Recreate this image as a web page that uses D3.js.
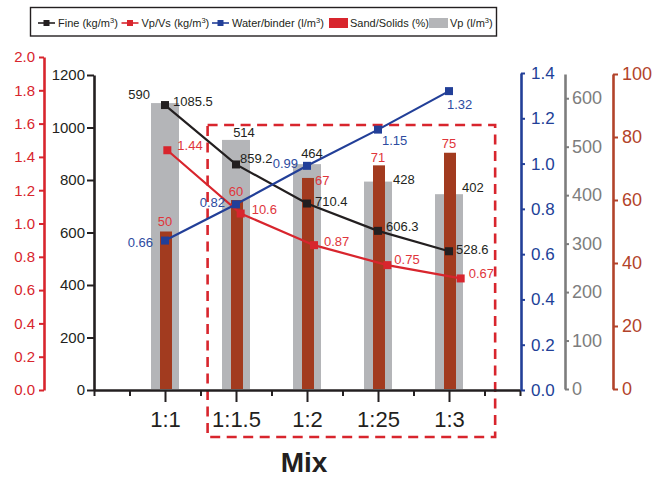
<!DOCTYPE html>
<html>
<head>
<meta charset="utf-8">
<script src="https://cdn.jsdelivr.net/npm/d3@7"></script>
<style>
  html, body { margin: 0; padding: 0; background: #ffffff; }
  svg { display: block; font-family: "Liberation Sans", Arial, Helvetica, sans-serif; }
</style>
</head>
<body>
<svg id="chart" width="665" height="477"></svg>
<script>
// ---- data ----
const mixes = ["1:1", "1:1.5", "1:2", "1:25", "1:3"];
const fine = [1085.5, 859.2, 710.4, 606.3, 528.6];          // kg/m3
const vpVs = [1.44, 1.06, 0.87, 0.75, 0.67];                // ratio
const vpVsText = ["1.44", "10.6", "0.87", "0.75", "0.67"];  // printed labels
const waterBinder = [0.66, 0.82, 0.99, 1.15, 1.32];         // l/m3
const sandSolids = [50, 60, 67, 71, 75];                    // %
const vp = [590, 514, 464, 428, 402];                       // l/m3

const fineTicks = [0, 200, 400, 600, 800, 1000, 1200];
const vpVsTicks = [0, 0.2, 0.4, 0.6, 0.8, 1.0, 1.2, 1.4, 1.6, 1.8, 2.0];
const wbTicks = [0, 0.2, 0.4, 0.6, 0.8, 1.0, 1.2, 1.4];
const vpTicks = [0, 100, 200, 300, 400, 500, 600];
const sandTicks = [0, 20, 40, 60, 80, 100];

// ---- colours ----
const C = {
  black: "#231f20",
  red: "#d8252d",
  redText: "#e0353b",
  blue: "#223f98",
  blueText: "#2d4b9f",
  grey: "#b4b5b8",
  greyAxis: "#7d7d7d",
  brown: "#a23b1f",
  brownAxis: "#b2432a"
};

// ---- label placement (dx, dy from the point, anchor) ----
const fineLabelPos = [[8, -3.5, "start"], [4, -6, "start"], [8, -2, "start"], [8, -4, "start"], [7, -1.5, "start"]];
const vpVsLabelPos = [[10, -5, "start"], [11, -4, "start"], [10, -4, "start"], [7, -6, "start"], [8, -5, "start"]];
const wbLabelPos = [[-12, 2, "end"], [-11, -1.5, "end"], [-9, -2, "end"], [4, 11, "start"], [-2, 13, "start"]];
const vpLabelPos = [[-15, -9, "end"], [8, -7, "middle"], [5, -11, "middle"], [15, -2, "start"], [13, -7, "start"]];
const sandLabelPos = [[0, -10, "middle"], [0, -9, "middle"], [8, 2, "start"], [0, -8, "middle"], [0, -9, "middle"]];

const svg = d3.select("#chart");
const FONT = '"Liberation Sans", Arial, Helvetica, sans-serif';

// ---- scales ----
const x = d3.scaleLinear().domain([0, 6]).range([94, 520]);
const xVpVs = d3.scaleLinear().domain([0, 6]).range([94, 534]);
const yFine = d3.scaleLinear().domain([0, 1200]).range([390, 75]);
const yVpVs = d3.scaleLinear().domain([0, 2]).range([390, 57]);
const yWB = d3.scaleLinear().domain([0, 1.4]).range([390, 73]);
const yVp = d3.scaleLinear().domain([0, 650]).range([389, 74]);
const ySand = d3.scaleLinear().domain([0, 100]).range([389, 74]);

const pos = i => i + 1; // category index -> x domain value

// ---- bars ----
svg.append("g").selectAll("rect").data(vp).join("rect")
  .attr("x", (d, i) => x(pos(i)) - 14)
  .attr("width", 28)
  .attr("y", d => yVp(d))
  .attr("height", d => yVp(0) - yVp(d))
  .attr("fill", C.grey);

svg.append("g").selectAll("rect").data(sandSolids).join("rect")
  .attr("x", (d, i) => x(pos(i)) - 5)
  .attr("width", 12)
  .attr("y", d => ySand(d))
  .attr("height", d => ySand(0) - ySand(d))
  .attr("fill", C.brown);

// ---- highlight box around the 1:1.5 .. 1:3 mixes ----
svg.append("rect")
  .attr("x", x(1.6)).attr("y", 125)
  .attr("width", x(5.65) - x(1.6)).attr("height", 312)
  .attr("fill", "none")
  .attr("stroke", C.red)
  .attr("stroke-width", 2.6)
  .attr("stroke-dasharray", "10,6.5");

// ---- axis helpers ----
function styleAxis(g, color, size, lineW) {
  g.attr("font-family", FONT).attr("font-size", size);
  g.select(".domain").attr("stroke", color).attr("stroke-width", lineW).attr("fill", "none");
  g.selectAll(".tick line").attr("stroke", color).attr("stroke-width", 2);
  g.selectAll(".tick text").attr("fill", color);
}

// x axis: category ticks and minor ticks between them
const xMinor = svg.append("g").attr("transform", "translate(0,390)")
  .call(d3.axisBottom(x).tickValues([0, 0.5, 1.5, 2.5, 3.5, 4.5, 5.5, 6]).tickSize(6).tickFormat(""));
xMinor.select(".domain").remove();
xMinor.selectAll(".tick line").attr("stroke", C.black).attr("stroke-width", 2);

const xAxis = svg.append("g").attr("transform", "translate(0,390)")
  .call(d3.axisBottom(x).tickValues([1, 2, 3, 4, 5]).tickSize(12).tickSizeOuter(0)
    .tickPadding(9).tickFormat(d => mixes[d - 1]));
styleAxis(xAxis, C.black, 22, 2.6);

svg.append("text")
  .attr("x", 304).attr("y", 472)
  .attr("text-anchor", "middle")
  .attr("font-family", FONT).attr("font-weight", "bold").attr("font-size", 28)
  .attr("fill", C.black)
  .text("Mix");

// left axes
const gFine = svg.append("g").attr("transform", "translate(94,0)")
  .call(d3.axisLeft(yFine).tickValues(fineTicks).tickSize(7).tickSizeOuter(0).tickPadding(2)
    .tickFormat(d3.format("d")));
styleAxis(gFine, C.black, 15, 2.6);

const gVpVs = svg.append("g").attr("transform", "translate(44,0)")
  .call(d3.axisLeft(yVpVs).tickValues(vpVsTicks).tickSize(5).tickSizeOuter(0).tickPadding(4)
    .tickFormat(d3.format(".1f")));
styleAxis(gVpVs, C.red, 15, 2.6);

// right axes
const gWB = svg.append("g").attr("transform", "translate(521,0)")
  .call(d3.axisRight(yWB).tickValues(wbTicks).tickSize(4).tickSizeOuter(0).tickPadding(6)
    .tickFormat(d3.format(".1f")));
styleAxis(gWB, C.blue, 17, 2.6);

const gVp = svg.append("g").attr("transform", "translate(565,0)")
  .call(d3.axisRight(yVp).tickValues(vpTicks).tickSize(4).tickSizeOuter(0).tickPadding(3)
    .tickFormat(d3.format("d")));
styleAxis(gVp, C.greyAxis, 18, 2.6);

const gSand = svg.append("g").attr("transform", "translate(613,0)")
  .call(d3.axisRight(ySand).tickValues(sandTicks).tickSize(5).tickSizeOuter(0).tickPadding(4)
    .tickFormat(d3.format("d")));
styleAxis(gSand, C.brownAxis, 18, 2.6);

// ---- line series ----
function drawSeries(values, xs, ys, color) {
  const line = d3.line().x((d, i) => xs(pos(i))).y(d => ys(d));
  svg.append("path").datum(values)
    .attr("d", line)
    .attr("fill", "none")
    .attr("stroke", color)
    .attr("stroke-width", 2.2);
  svg.append("g").selectAll("rect").data(values).join("rect")
    .attr("x", (d, i) => xs(pos(i)) - 4)
    .attr("y", d => ys(d) - 4)
    .attr("width", 8).attr("height", 8)
    .attr("fill", color);
}

function drawLabels(values, texts, xs, ys, offsets, color) {
  svg.append("g").selectAll("text").data(values).join("text")
    .attr("x", (d, i) => xs(pos(i)) + offsets[i][0])
    .attr("y", (d, i) => ys(d) + offsets[i][1])
    .attr("dy", "0.35em")
    .attr("text-anchor", (d, i) => offsets[i][2])
    .attr("font-family", FONT).attr("font-size", 13)
    .attr("fill", color)
    .text((d, i) => texts[i]);
}

drawSeries(fine, x, yFine, C.black);
drawSeries(vpVs, xVpVs, yVpVs, C.red);
drawSeries(waterBinder, x, yWB, C.blue);

drawLabels(vp, vp.map(String), x, yVp, vpLabelPos, C.black);
drawLabels(sandSolids, sandSolids.map(String), x, ySand, sandLabelPos, C.redText);
drawLabels(fine, fine.map(d => d3.format(".1f")(d)), x, yFine, fineLabelPos, C.black);
drawLabels(vpVs, vpVsText, xVpVs, yVpVs, vpVsLabelPos, C.redText);
drawLabels(waterBinder, waterBinder.map(d => d3.format(".2f")(d)), x, yWB, wbLabelPos, C.blueText);

// ---- legend ----
const legendItems = [
  { name: "Fine (kg/m", sup: "3", tail: ")", type: "line", color: C.black, x: 38 },
  { name: "Vp/Vs (kg/m", sup: "3", tail: ")", type: "line", color: C.red, x: 121.5 },
  { name: "Water/binder (l/m", sup: "3", tail: ")", type: "line", color: C.blue, x: 212 },
  { name: "Sand/Solids (%)", sup: "", tail: "", type: "box", color: C.red, x: 329 },
  { name: "Vp (l/m", sup: "3", tail: ")", type: "box", color: C.grey, x: 429 }
];

const legend = svg.append("g");
legend.append("rect")
  .attr("x", 30.5).attr("y", 7.5).attr("width", 466).attr("height", 28.5)
  .attr("fill", "#ffffff").attr("stroke", C.black).attr("stroke-width", 1.4);

const li = legend.selectAll("g.item").data(legendItems).join("g").attr("class", "item");
li.each(function (d) {
  const g = d3.select(this);
  const cy = 23;
  if (d.type === "line") {
    g.append("line").attr("x1", d.x).attr("x2", d.x + 17).attr("y1", cy).attr("y2", cy)
      .attr("stroke", d.color).attr("stroke-width", 1.6);
    g.append("rect").attr("x", d.x + 5.5).attr("y", cy - 3).attr("width", 6).attr("height", 6)
      .attr("fill", d.color);
  } else {
    g.append("rect").attr("x", d.x).attr("y", cy - 5).attr("width", 19).attr("height", 10)
      .attr("fill", d.color);
  }
  const t = g.append("text")
    .attr("x", d.x + (d.type === "line" ? 20 : 21)).attr("y", cy + 4)
    .attr("font-family", FONT).attr("font-size", 11).attr("fill", C.black);
  t.append("tspan").text(d.name);
  if (d.sup) {
    t.append("tspan").attr("font-size", 7.5).attr("dy", -4).text(d.sup);
    t.append("tspan").attr("dy", 4).text(d.tail);
  }
});
</script>
</body>
</html>
